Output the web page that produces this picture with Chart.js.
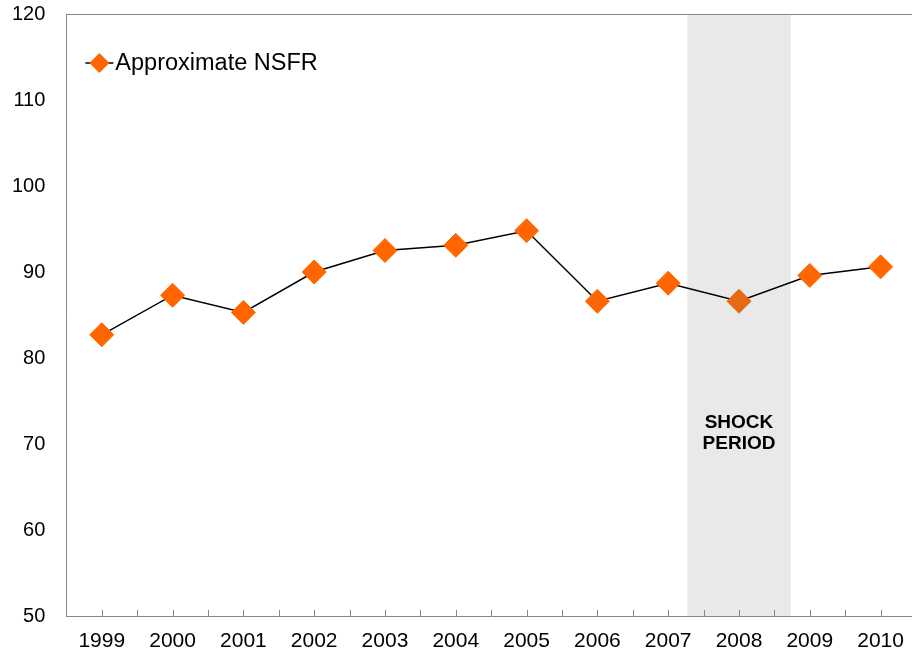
<!DOCTYPE html>
<html>
<head>
<meta charset="utf-8">
<script src="https://cdn.jsdelivr.net/npm/chart.js@4/dist/chart.umd.min.js"></script>
<style>
  html, body { margin: 0; padding: 0; overflow: hidden; background: #fff; }
</style>
</head>
<body>
<canvas id="nsfrChart" width="920" height="659"></canvas>
<script>
// chart data
const years = ['1999', '2000', '2001', '2002', '2003', '2004', '2005', '2006', '2007', '2008', '2009', '2010'];
const nsfr = [82.7, 87.3, 85.3, 90.0, 92.5, 93.1, 94.8, 86.6, 88.7, 86.6, 89.6, 90.6];
const yTicks = [50, 60, 70, 80, 90, 100, 110, 120];
const shockLabel = ['SHOCK', 'PERIOD'];
const shockFrom = 8.27; // in category units
const shockTo = 9.73;

const axisGrey = '#868686';
const orange = '#FF6600';

// grey band + the small tick marks inside the axis + top border
const decorations = {
    id: 'decorations',
    beforeDatasetsDraw(chart) {
        const { ctx, chartArea, scales } = chart;
        const x0 = scales.x.getPixelForValue(shockFrom);
        const x1 = scales.x.getPixelForValue(shockTo);
        ctx.save();
        ctx.fillStyle = '#E9E9E9';
        ctx.fillRect(x0, chartArea.top, x1 - x0, chartArea.bottom - chartArea.top);

        ctx.fillStyle = '#000';
        ctx.font = 'bold 19px "Liberation Sans", Arial, sans-serif';
        ctx.textAlign = 'center';
        ctx.textBaseline = 'middle';
        const cx = scales.x.getPixelForValue(9);
        const cy = scales.y.getPixelForValue(71.3);
        ctx.fillText(shockLabel[0], cx, cy - 10.5);
        ctx.fillText(shockLabel[1], cx, cy + 10.5);

        ctx.strokeStyle = axisGrey;
        ctx.lineWidth = 1;
        ctx.beginPath();
        ctx.moveTo(chartArea.left, chartArea.top + 0.5);
        ctx.lineTo(chartArea.right, chartArea.top + 0.5);
        scales.x.ticks.forEach(t => {
            const px = Math.round(scales.x.getPixelForValue(t.value)) + 0.5;
            ctx.moveTo(px, chartArea.bottom);
            ctx.lineTo(px, chartArea.bottom - 6);
        });
        ctx.stroke();
        ctx.restore();
    },
    afterDraw(chart) {
        // legend drawn inside the plot
        const { ctx, chartArea } = chart;
        const ds = chart.data.datasets[0];
        const lx = chartArea.left + 19;
        const ly = chartArea.top + 49;
        ctx.save();
        ctx.strokeStyle = '#000';
        ctx.lineWidth = 1.5;
        ctx.beginPath();
        ctx.moveTo(lx, ly);
        ctx.lineTo(lx + 28, ly);
        ctx.stroke();
        ctx.fillStyle = orange;
        ctx.beginPath();
        ctx.moveTo(lx + 14 - 10, ly);
        ctx.lineTo(lx + 14, ly - 10);
        ctx.lineTo(lx + 14 + 10, ly);
        ctx.lineTo(lx + 14, ly + 10);
        ctx.closePath();
        ctx.fill();
        ctx.fillStyle = '#000';
        ctx.font = '23.5px "Liberation Sans", Arial, sans-serif';
        ctx.textBaseline = 'middle';
        ctx.fillText(ds.label, lx + 30, ly + 1);
        ctx.restore();
    }
};

const ctx = document.getElementById('nsfrChart').getContext('2d');

const pointColors = nsfr.map((v, i) => years[i] === '2008' ? '#E66A14' : orange);

new Chart(ctx, {
    type: 'line',
    data: {
        datasets: [{
            label: 'Approximate NSFR',
            data: nsfr.map((v, i) => ({ x: i, y: v })),
            borderColor: '#000',
            borderWidth: 1.5,
            pointStyle: 'rectRot',
            pointRadius: 12,
            pointHoverRadius: 12,
            pointBackgroundColor: pointColors,
            pointBorderColor: pointColors,
            pointBorderWidth: 1,
            tension: 0
        }]
    },
    options: {
        responsive: false,
        animation: false,
        layout: { autoPadding: false, padding: { top: 14, left: -9, right: 4, bottom: 4 } },
        plugins: {
            legend: { display: false },
            tooltip: { enabled: false }
        },
        scales: {
            x: {
                type: 'linear',
                min: -0.5,
                max: years.length - 0.5,
                grid: { display: false, drawTicks: false },
                border: { display: true, color: axisGrey, width: 1 },
                afterFit: scale => { scale.paddingLeft = 0; scale.paddingRight = 0; scale.height = 39; },
                ticks: {
                    stepSize: 0.5,
                    autoSkip: false,
                    maxRotation: 0,
                    padding: 13,
                    color: '#000',
                    font: { family: '"Liberation Sans", Arial, sans-serif', size: 21 },
                    callback: function(value) {
                        const i = Math.round(value);
                        return Math.abs(value - i) < 1e-6 ? years[i] : '';
                    }
                }
            },
            y: {
                min: yTicks[0],
                max: yTicks[yTicks.length - 1],
                afterBuildTicks: axis => { axis.ticks = yTicks.map(v => ({ value: v })); },
                afterFit: scale => { scale.paddingTop = 0; scale.paddingBottom = 0; },
                grid: { display: false, drawTicks: false },
                border: { display: true, color: axisGrey, width: 1 },
                ticks: {
                    padding: 21,
                    color: '#000',
                    font: { family: '"Liberation Sans", Arial, sans-serif', size: 20 }
                }
            }
        }
    },
    plugins: [decorations]
});
</script>
</body>
</html>
